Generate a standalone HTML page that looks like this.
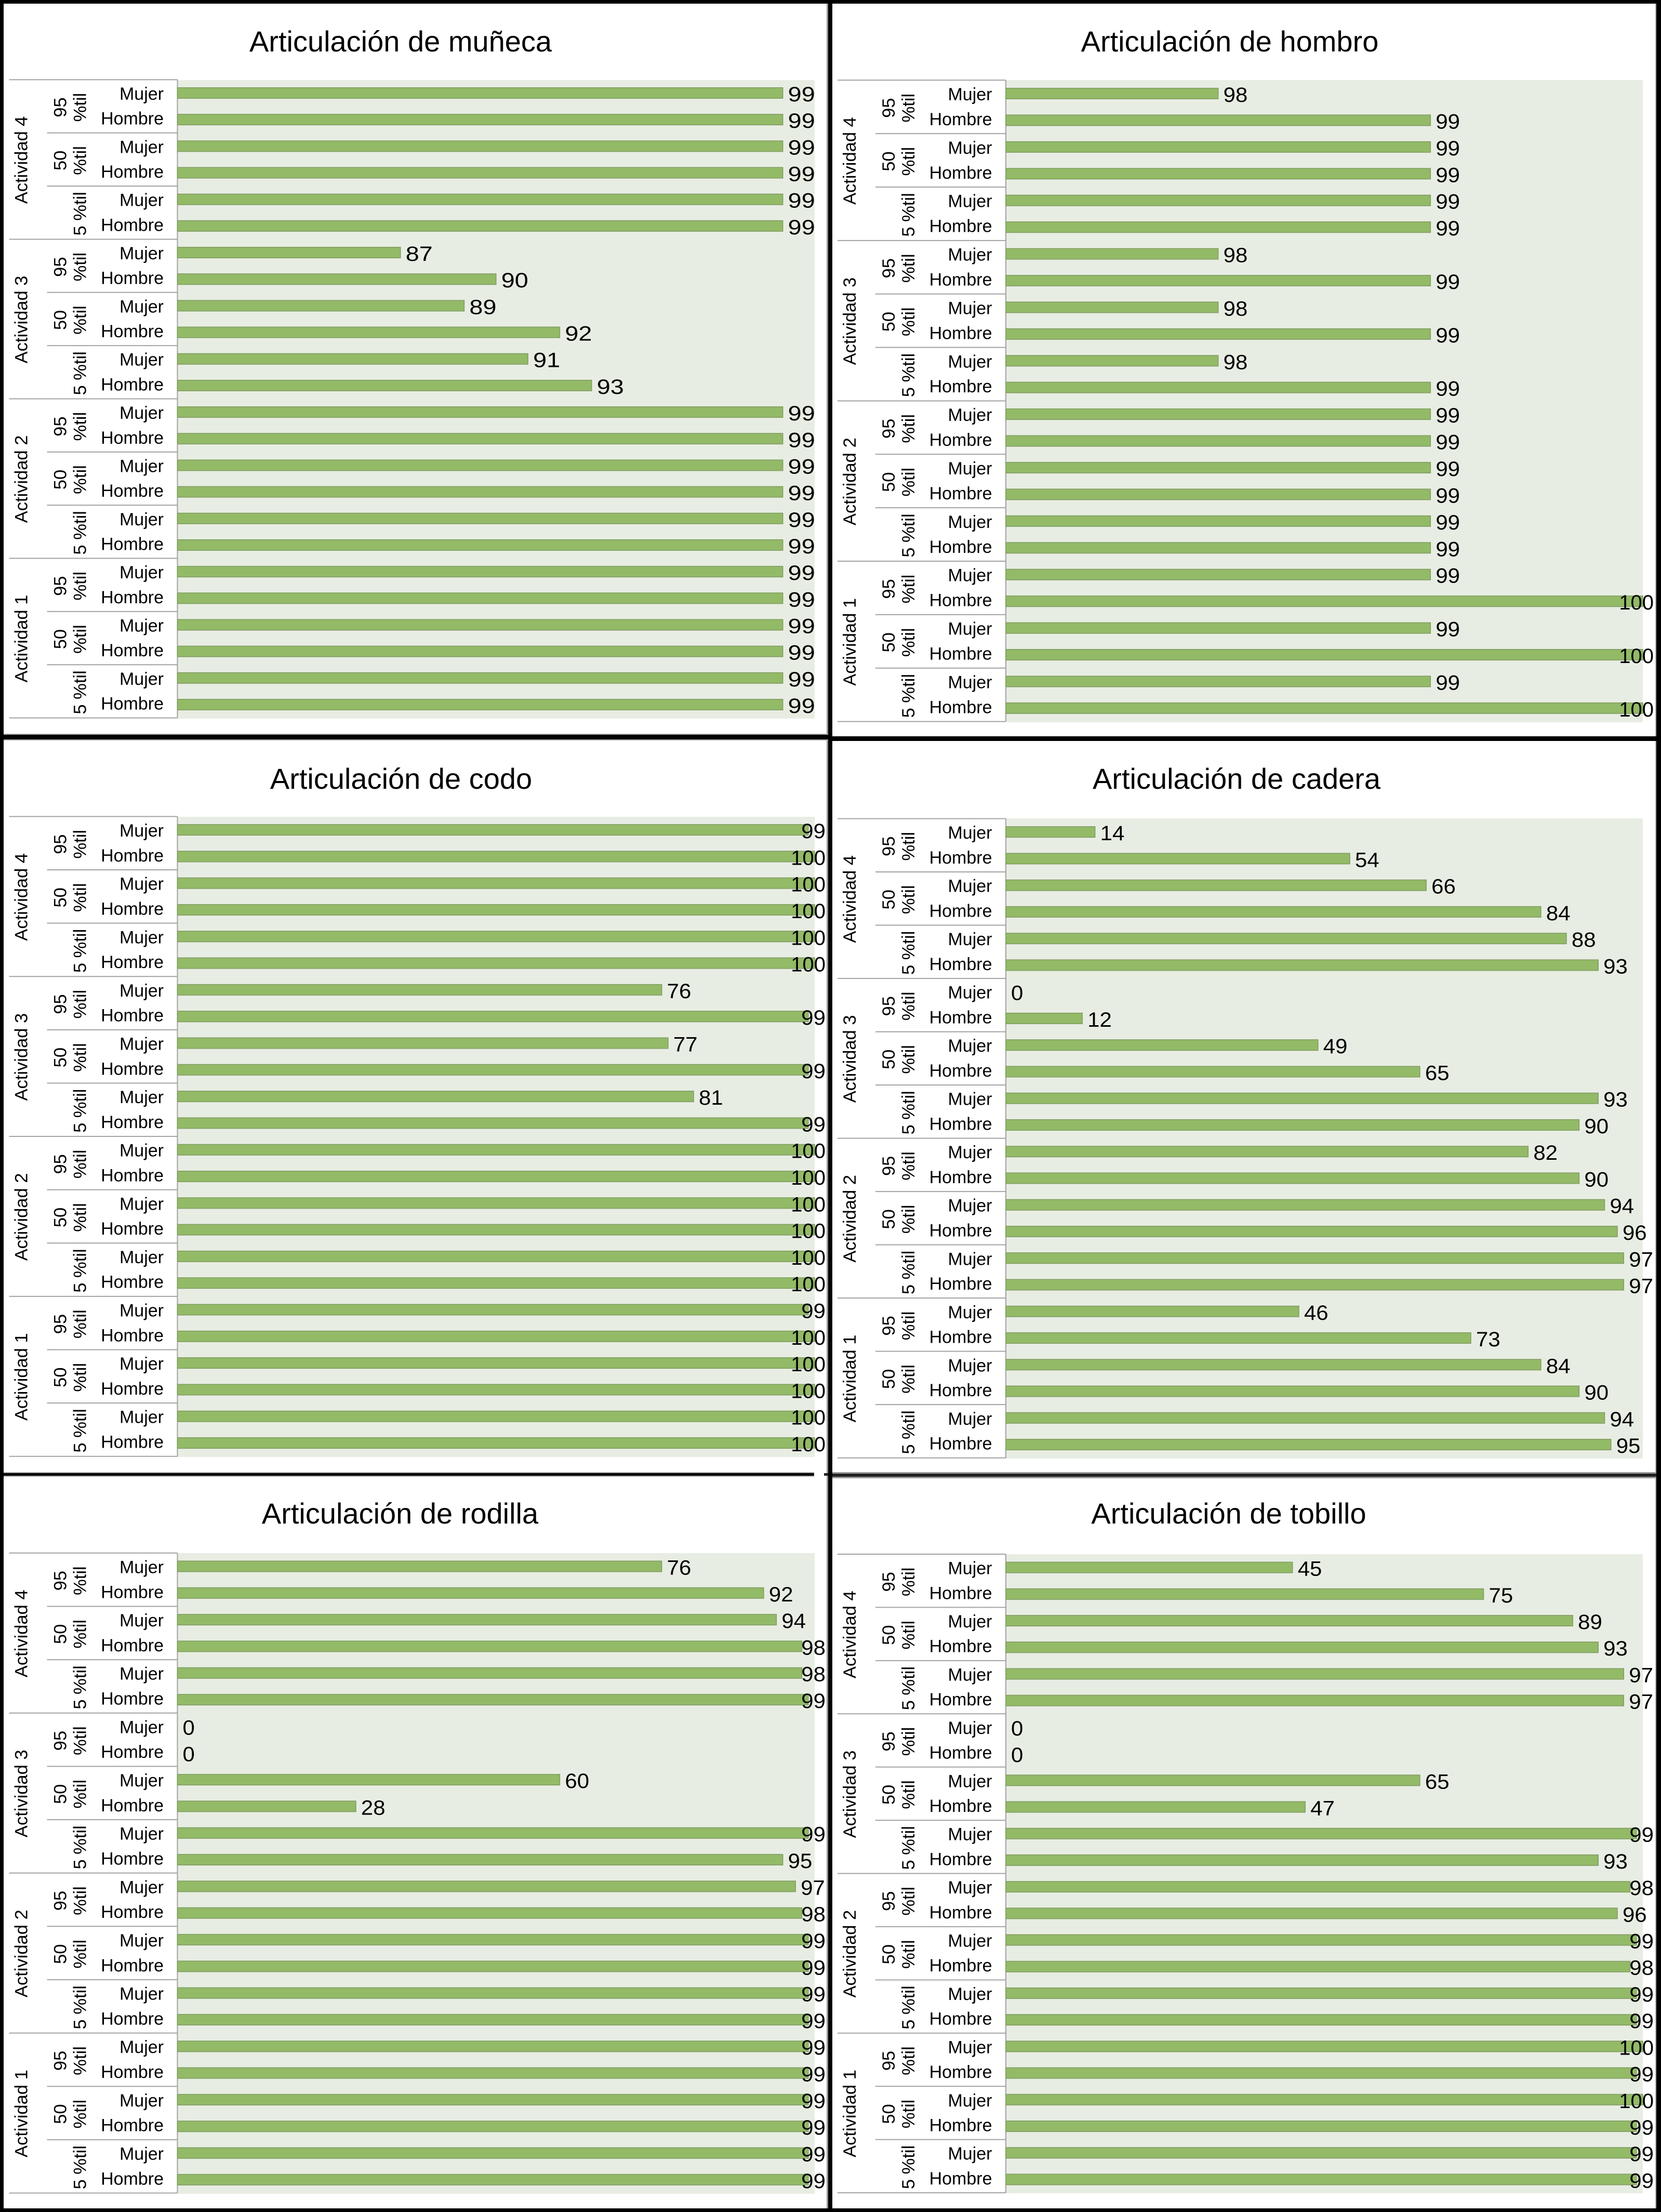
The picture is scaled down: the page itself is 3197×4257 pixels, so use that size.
<!DOCTYPE html>
<html lang="es">
<head>
<meta charset="utf-8">
<title>Articulaciones</title>
<style>
html,body{margin:0;padding:0;background:#fff;}
body{width:3197px;height:4257px;overflow:hidden;}
svg{display:block;}
text{font-family:"Liberation Sans",Arial,sans-serif;fill:#000;}
</style>
</head>
<body>
<svg id="figure" xmlns="http://www.w3.org/2000/svg" width="3197" height="4257" viewBox="0 0 3197 4257">
  <rect x="0" y="0" width="3197" height="4257" fill="#fff"/>
  <g id="charts"></g>
  <g id="frame">
    <rect x="1591" y="0" width="3" height="4257" fill="#999"/>
    <rect x="3186" y="0" width="2" height="4257" fill="#aaa"/>
    <rect x="0" y="1412" width="1594" height="13" fill="#aaa"/>
    <rect x="0" y="2833" width="1567" height="9" fill="#aaa"/>
    <rect x="1602" y="2833" width="1586" height="12" fill="#999"/>
    <rect x="0" y="0" width="7" height="4257" fill="#000"/>
    <rect x="0" y="0" width="3197" height="7" fill="#000"/>
    <rect x="3188" y="0" width="9" height="4257" fill="#000"/>
    <rect x="0" y="4250" width="3197" height="7" fill="#000"/>
    <rect x="1594" y="0" width="8" height="4257" fill="#000"/>
    <rect x="0" y="1414" width="1594" height="9" fill="#000"/>
    <rect x="1602" y="1417" width="1586" height="9" fill="#000"/>
    <rect x="0" y="2835" width="1567" height="5" fill="#000"/>
    <rect x="1586" y="2835" width="8" height="5" fill="#222"/>
    <rect x="1602" y="2836" width="1586" height="6" fill="#222"/>
  </g>
</svg>
<script>
const chartTitles = ['Articulación de muñeca','Articulación de hombro','Articulación de codo','Articulación de cadera','Articulación de rodilla','Articulación de tobillo'];
const activityLabels = ['Actividad 4','Actividad 3','Actividad 2','Actividad 1'];
const percentileLabels = [['95','%til'],['50','%til'],['5 %til']];
const genderLabels = ['Mujer','Hombre'];
const axisMinimums = [80,97,0,0,0,0];
const axisMaximums = [100,100,100,100,100,100];
const valuesMuneca = [99,99,99,99,99,99, 87,90,89,92,91,93, 99,99,99,99,99,99, 99,99,99,99,99,99];
const valuesHombro = [98,99,99,99,99,99, 98,99,98,99,98,99, 99,99,99,99,99,99, 99,100,99,100,99,100];
const valuesCodo = [99,100,100,100,100,100, 76,99,77,99,81,99, 100,100,100,100,100,100, 99,100,100,100,100,100];
const valuesCadera = [14,54,66,84,88,93, 0,12,49,65,93,90, 82,90,94,96,97,97, 46,73,84,90,94,95];
const valuesRodilla = [76,92,94,98,98,99, 0,0,60,28,99,95, 97,98,99,99,99,99, 99,99,99,99,99,99];
const valuesTobillo = [45,75,89,93,97,97, 0,0,65,47,99,93, 98,96,99,98,99,99, 100,99,100,99,99,99];
const panelValues = [valuesMuneca,valuesHombro,valuesCodo,valuesCadera,valuesRodilla,valuesTobillo];

/* Layout of each panel (drawing geometry, not chart data). */
const layouts = {
  p0:{left:341.5,right:1568,top:154,bottom:1383,rowTop:153.4,rowBottom:1381.6,titleX:771,titleY:99,stretch:1.17},
  p1:{left:1936,right:3162,top:154,bottom:1390,rowTop:154.3,rowBottom:1388.6,titleX:2367,titleY:99,stretch:1.05},
  p2:{left:341.5,right:1568,top:1572,bottom:2804,rowTop:1571.4,rowBottom:2802.7,titleX:772,titleY:1518,stretch:1.05},
  p3:{left:1936,right:3162,top:1575,bottom:2807,rowTop:1575.5,rowBottom:2805.7,titleX:2380,titleY:1518,stretch:1.05},
  p4:{left:341.5,right:1568,top:2989,bottom:4222,rowTop:2988.8,rowBottom:4220.5,titleX:770,titleY:2932,stretch:1.05},
  p5:{left:1936,right:3162,top:2991,bottom:4221,rowTop:2991,rowBottom:4220,titleX:2365,titleY:2932,stretch:1.05}
};
const NS = 'http://www.w3.org/2000/svg';
const root = document.getElementById('charts');

function svgEl(tag, parent, attrs){
  const el = document.createElementNS(NS, tag);
  for (const k in attrs) el.setAttribute(k, attrs[k]);
  parent.appendChild(el);
  return el;
}
function slug(s){
  return s.normalize('NFD').replace(/[\u0300-\u036f]/g,'').replace(/\s+/g,'-').replace(/%/g,'pct').toLowerCase();
}

chartTitles.forEach(function(title, p){
  const L = layouts['p'+p];
  const values = panelValues[p];
  const min = axisMinimums[p];
  const max = axisMaximums[p];
  const rowH = (L.rowBottom - L.rowTop) / values.length;
  const xScale = function(v){ return L.left + (Math.max(v,min) - min) / (max - min) * (L.right - L.left); };
  const yScale = function(i){ return L.rowTop + (i + 0.5) * rowH; };

  const g = svgEl('g', root, {});
  
  

  const t = svgEl('text', g, {x:L.titleX, y:L.titleY, 'text-anchor':'middle', 'font-size':56});
  
  
  t.textContent = title;

  const bg = svgEl('rect', g, {x:L.left, y:L.top, width:L.right-L.left, height:L.bottom-L.top, fill:'#e8ede3'});
  
  

  const axis = svgEl('line', g, {x1:L.left, x2:L.left, y1:L.rowTop, y2:L.rowBottom, stroke:'#a3a3a3', 'stroke-width':2});
  
  

  const activityRows = values.length / activityLabels.length;
  const percentileRows = activityRows / percentileLabels.length;

  activityLabels.forEach(function(act, a){
    const y0 = L.rowTop + a * activityRows * rowH;
    const tick = svgEl('line', g, {x1:L.left-324, x2:L.left, y1:y0, y2:y0, stroke:'#a3a3a3', 'stroke-width':2});
    
    

    const ax = L.left - 289, ay = y0 + activityRows * rowH / 2 + 1;
    const at = svgEl('text', g, {x:ax, y:ay, 'text-anchor':'middle', 'font-size':34.5, transform:'rotate(-90 '+ax+' '+ay+')'});
    
    
    at.textContent = act;

    percentileLabels.forEach(function(parts, q){
      const py0 = y0 + q * percentileRows * rowH;
      if (q > 0) {
        const pt = svgEl('line', g, {x1:L.left-251, x2:L.left, y1:py0, y2:py0, stroke:'#a3a3a3', 'stroke-width':2});
        
        
      }
      const py = py0 + percentileRows * rowH / 2 + 2;
      const xs = parts.length === 2 ? [L.left-214, L.left-176] : [L.left-176];
      parts.forEach(function(part, k){
        const lb = svgEl('text', g, {x:xs[k], y:py, 'text-anchor':'middle', 'font-size':34.5, transform:'rotate(-90 '+xs[k]+' '+py+')'});
        
        
        lb.textContent = part;
      });
    });
  });
  const endTick = svgEl('line', g, {x1:L.left-324, x2:L.left, y1:L.rowBottom, y2:L.rowBottom, stroke:'#a3a3a3', 'stroke-width':2});
  
  

  values.forEach(function(v, i){
    const cy = yScale(i);
    const gender = genderLabels[i % genderLabels.length];
    const gl = svgEl('text', g, {x:L.left-26.5, y:cy+(i%2===0?13:9.5), 'text-anchor':'end', 'font-size':34});
    
    
    gl.textContent = gender;

    const end = xScale(v);
    const bar = svgEl('rect', g, {x:L.left, y:cy-10.25, width:Math.max(end-L.left,0), height:20.5, fill:'#93ba66', stroke:'#7f9c63', 'stroke-width':1.5});
    
    

    const str = String(v);
    const sx = str.length === 3 ? 1 : L.stretch;
    const w = str.length * 22.25 * sx;
    const limit = L.right + 21;
    const overflow = end + 10 + w > limit;
    const tx = overflow ? limit : end + 10;
    const vl = svgEl('text', g, {x:0, y:0, 'text-anchor':overflow?'end':'start', 'font-size':40, transform:'translate('+tx+' '+(cy+16)+') scale('+sx+' 1)'});
    
    
    vl.textContent = str;
  });
});
</script>
</body>
</html>
